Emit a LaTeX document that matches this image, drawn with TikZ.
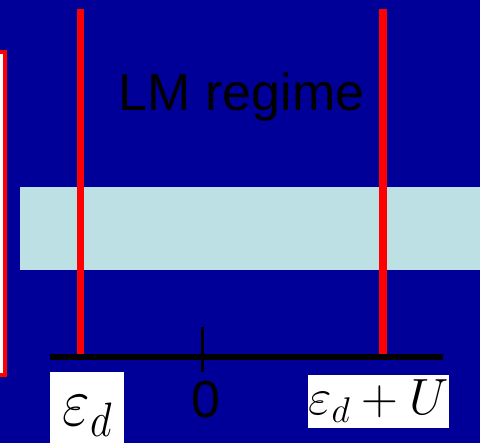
\RequirePackage{fix-cm}
\documentclass[tikz,border=0pt]{standalone}
\usepackage{fontspec}
\newfontfamily\arialfont{Liberation Sans}
\definecolor{slideblue}{RGB}{0,0,153}
\definecolor{bandcyan}{RGB}{188,224,228}

\begin{document}
\begin{tikzpicture}[x=1pt, y=-1pt,
    level/.style={red, line width=7.5pt},
    axisline/.style={black, line width=6pt},
    lbl/.style={font=\arialfont\fontsize{52}{60}\selectfont, inner sep=0pt},
    mathbox/.style={fill=white, inner sep=0pt}]
    % Background, box and band:
    \fill[slideblue] (0,0) rectangle (480,443);
    \useasboundingbox (0,0) rectangle (480,443);
    \filldraw[draw=red, fill=white, line width=4pt] (-20,52) rectangle (4.7,375);
    \fill[bandcyan] (20,187) rectangle (480,270);
    % Levels and axis:
    \coordinate (edtop) at (80.5,9);
    \coordinate (edbot) at (80.5,354);
    \coordinate (edUtop) at (383,9);
    \coordinate (edUbot) at (383,354);
    \coordinate (axL) at (50,357);
    \coordinate (axR) at (443,357);
    \coordinate (ticktop) at (202,327);
    \coordinate (tickbot) at (202,372);
    \draw[level] (edtop) -- (edbot);
    \draw[level] (edUtop) -- (edUbot);
    \draw[axisline] (axL) -- (axR);
    \draw[black, line width=3pt] (ticktop) -- (tickbot);
    % Labels:
    \node[lbl, anchor=base] (regime) at (241.5,111) {LM regime};
    \node[lbl, anchor=base] (zero) at (205.5,418) {0};
    \node[mathbox, anchor=north west, minimum width=74pt, minimum height=88pt,
        font=\fontsize{60}{70}\selectfont] (epsd) at (50,372)
        {\scalebox{1}[1.15]{$\varepsilon_d$}};
    \node[mathbox, anchor=base, inner xsep=0.5pt, inner ysep=5.5pt,
        font=\fontsize{51}{60}\selectfont] (epsdU) at (378.5,415)
        {$\varepsilon_d+U$};
\end{tikzpicture}
\end{document}
